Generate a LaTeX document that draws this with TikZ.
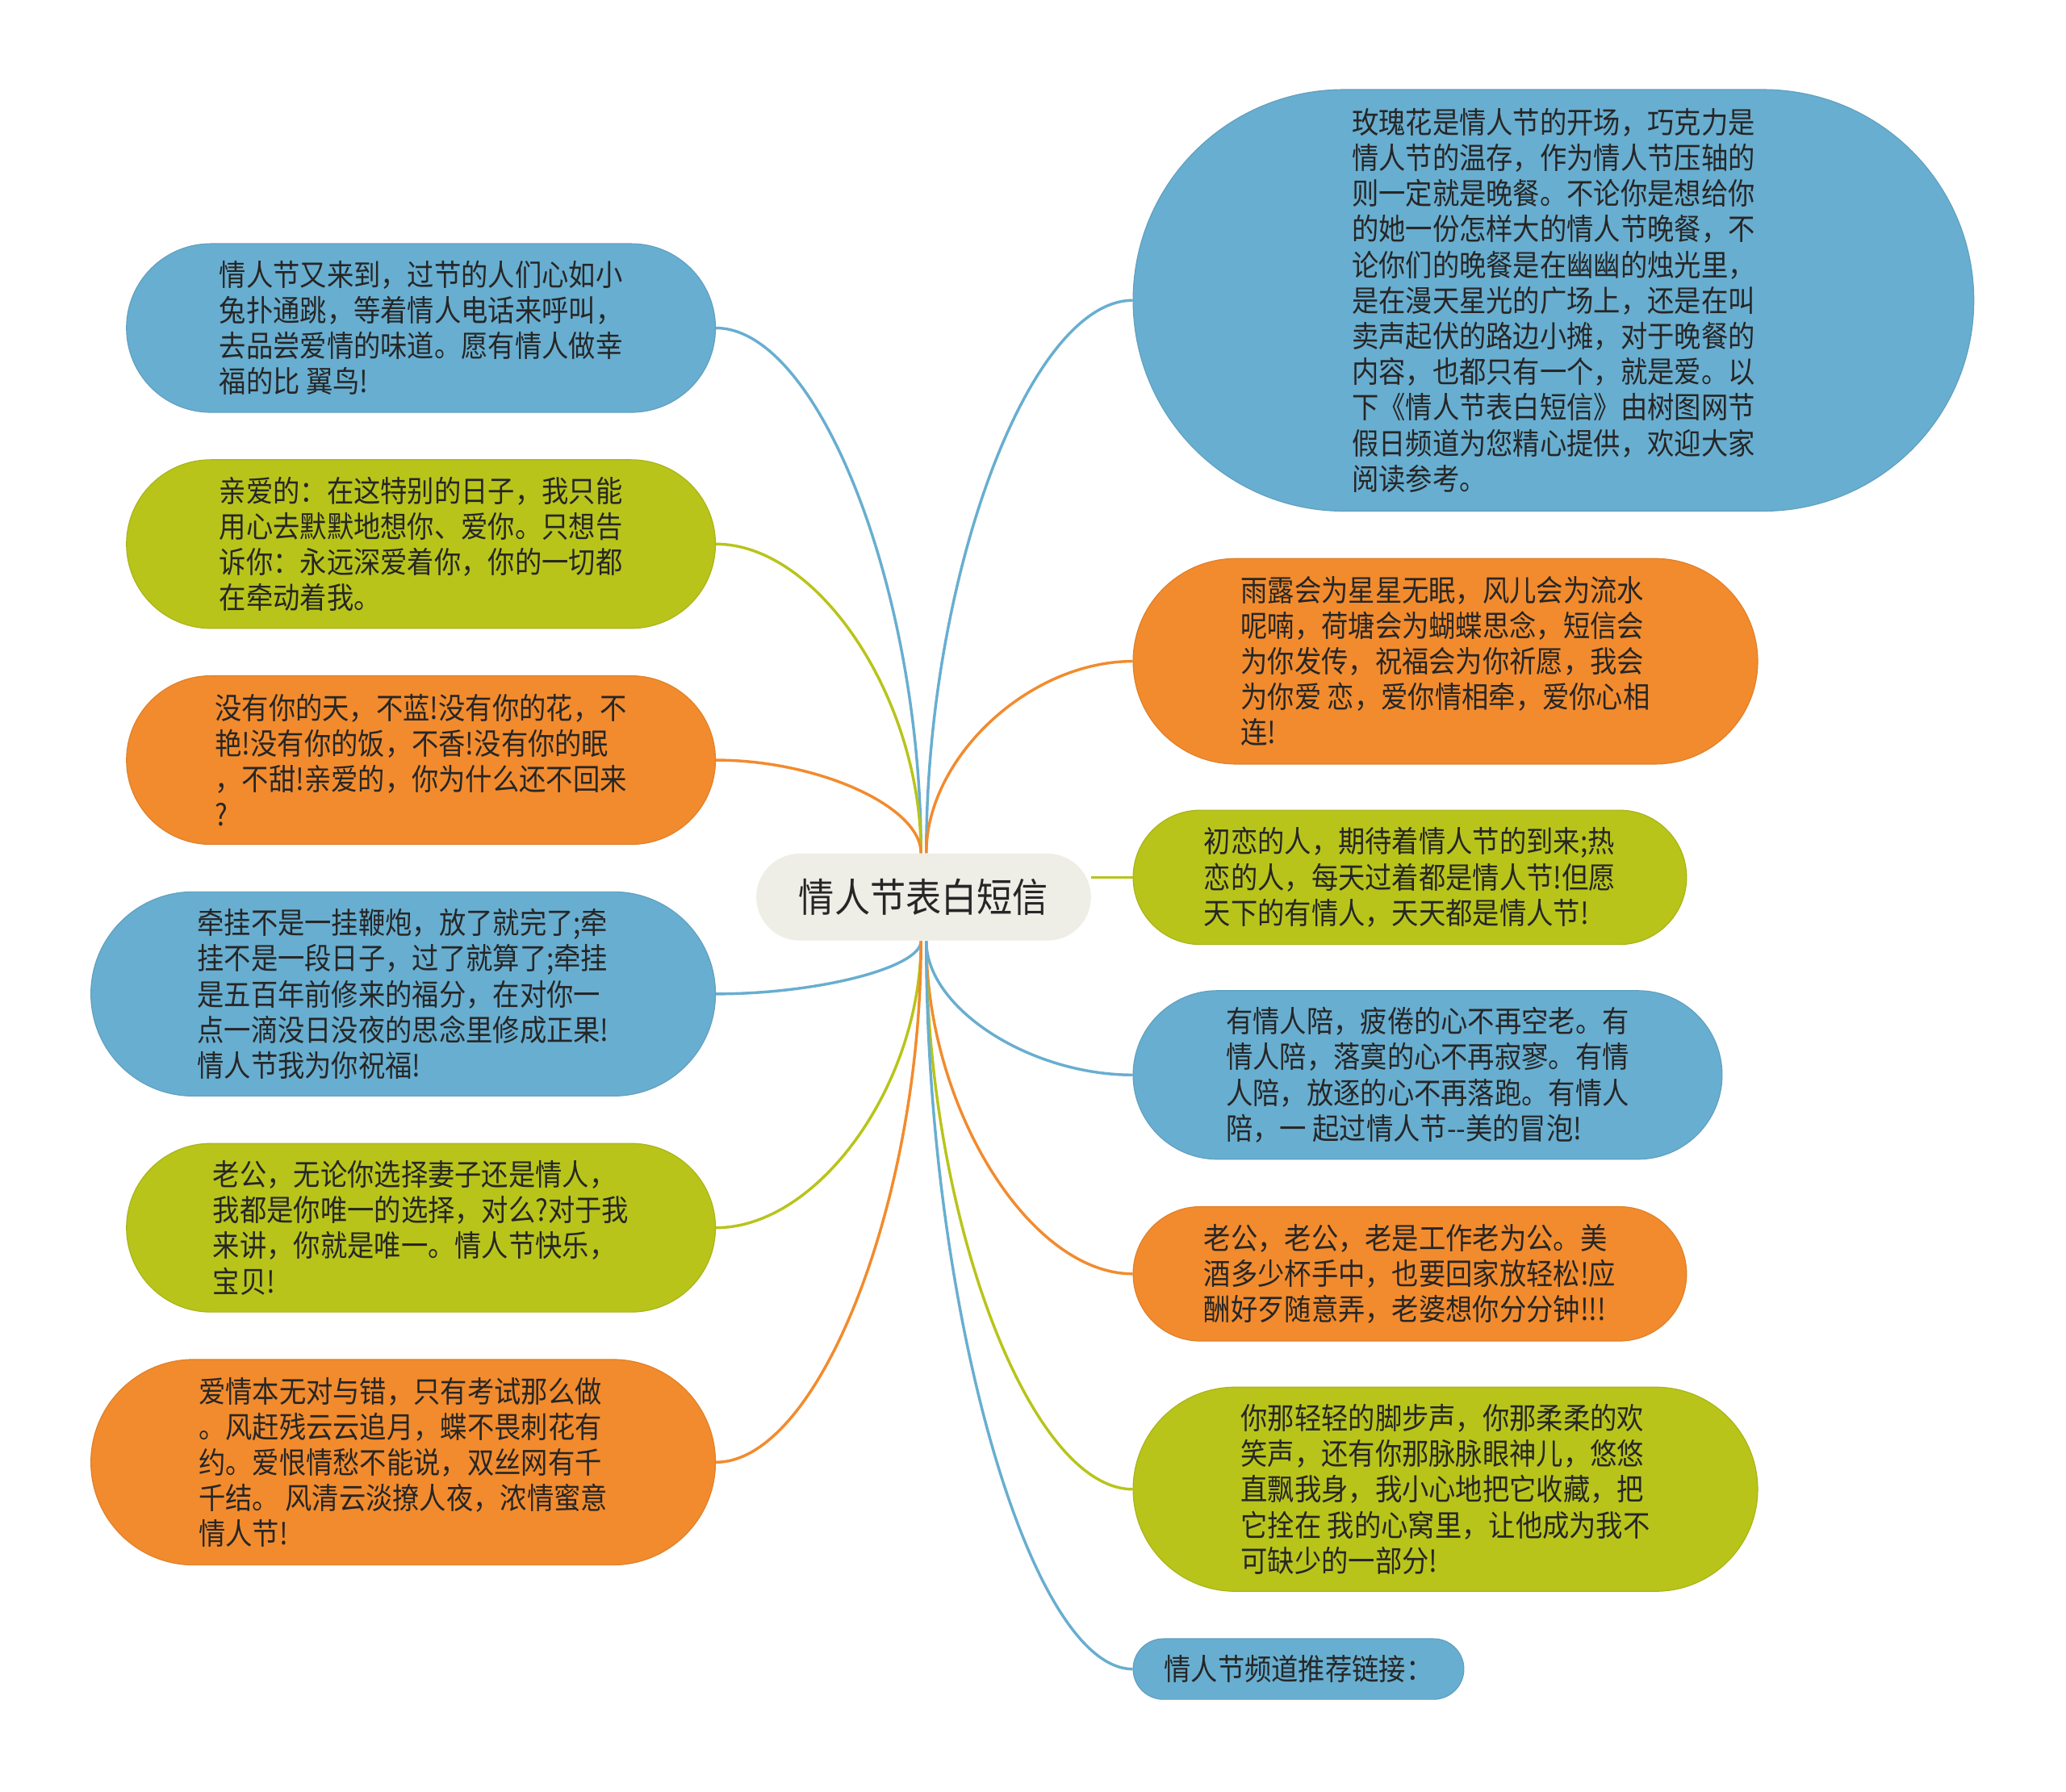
\documentclass[tikz,border=0pt]{standalone}
\usepackage{fontspec}
\setmainfont{Noto Sans CJK SC}[FakeStretch=0.9]
\usepackage{tikz}
\usetikzlibrary{calc}
\definecolor{topicblue}{HTML}{68AED0}
\definecolor{topicgreen}{HTML}{B8C41A}
\definecolor{topicorange}{HTML}{F28B2D}
\definecolor{rootgray}{HTML}{EEEDE6}
\definecolor{inkgray}{HTML}{262626}
\newcommand{\px}{0.02cm}
\newcommand{\branch}[3]{\draw[#1, line width=1.2pt] (#2) .. controls ($(#2)!0.5!(#2 -| #3)$) and ($(#3)!0.5!(#2 -| #3)$) .. (#3);}
\pgfdeclarelayer{bg}
\pgfsetlayers{bg,main}

\begin{document}
\begin{tikzpicture}[x=0.02cm, y=-0.02cm,
    leaf/.style n args={3}{fill=#1, draw=#1!92!black, line width=0.4pt,
        rounded corners=#3*\px/2, minimum width=#2*\px, minimum height=#3*\px,
        inner sep=0pt, align=left, text=inkgray,
        font=\fontsize{12.9pt}{15.4pt}\selectfont},
    root/.style={fill=rootgray, rounded corners=33*\px, minimum width=254*\px,
        minimum height=66*\px, inner sep=0pt, text=inkgray,
        font=\fontsize{17.1pt}{20pt}\selectfont}]
    \useasboundingbox (0,0) rectangle (1568,1360);

    % Centre topic
    \node[root] (ct) at (701,681) {情人节表白短信};
    \coordinate (tl) at ([xshift=-0.04cm]ct.north);
    \coordinate (tr) at ([xshift=0.04cm]ct.north);
    \coordinate (bl) at ([xshift=-0.04cm]ct.south);
    \coordinate (br) at ([xshift=0.04cm]ct.south);

    % Left side
    \node[leaf={topicblue}{447}{128}] (l1) at (319.5,249) {情人节又来到，过节的人们心如小\\兔扑通跳，等着情人电话来呼叫，\\去品尝爱情的味道。愿有情人做幸\\福的比 翼鸟!};
    \node[leaf={topicgreen}{447}{128}] (l2) at (319.5,413) {亲爱的：在这特别的日子，我只能\\用心去默默地想你、爱你。只想告\\诉你：永远深爱着你，你的一切都\\在牵动着我。};
    \node[leaf={topicorange}{447}{128}] (l3) at (319.5,577) {没有你的天，不蓝!没有你的花，不\\艳!没有你的饭，不香!没有你的眠\\，不甜!亲爱的，你为什么还不回来\\?};
    \node[leaf={topicblue}{474}{155}] (l4) at (306,754.5) {牵挂不是一挂鞭炮，放了就完了;牵\\挂不是一段日子，过了就算了;牵挂\\是五百年前修来的福分，在对你一\\点一滴没日没夜的思念里修成正果!\\情人节我为你祝福!};
    \node[leaf={topicgreen}{447}{128}] (l5) at (319.5,932) {老公，无论你选择妻子还是情人，\\我都是你唯一的选择，对么?对于我\\来讲，你就是唯一。情人节快乐，\\宝贝!};
    \node[leaf={topicorange}{474}{156}] (l6) at (306,1110) {爱情本无对与错，只有考试那么做\\。风赶残云云追月，蝶不畏刺花有\\约。爱恨情愁不能说，双丝网有千\\千结。 风清云淡撩人夜，浓情蜜意\\情人节!};

    % Right side
    \node[leaf={topicblue}{638}{320}] (r1) at (1179,228) {玫瑰花是情人节的开场，巧克力是\\情人节的温存，作为情人节压轴的\\则一定就是晚餐。不论你是想给你\\的她一份怎样大的情人节晚餐，不\\论你们的晚餐是在幽幽的烛光里，\\是在漫天星光的广场上，还是在叫\\卖声起伏的路边小摊，对于晚餐的\\内容，也都只有一个，就是爱。以\\下《情人节表白短信》由树图网节\\假日频道为您精心提供，欢迎大家\\阅读参考。};
    \node[leaf={topicorange}{474}{156}] (r2) at (1097,502) {雨露会为星星无眠，风儿会为流水\\呢喃，荷塘会为蝴蝶思念，短信会\\为你发传，祝福会为你祈愿，我会\\为你爱 恋，爱你情相牵，爱你心相\\连!};
    \node[leaf={topicgreen}{420}{102}] (r3) at (1070,666) {初恋的人，期待着情人节的到来;热\\恋的人，每天过着都是情人节!但愿\\天下的有情人，天天都是情人节!};
    \node[leaf={topicblue}{447}{128}] (r4) at (1083.5,816) {有情人陪，疲倦的心不再空老。有\\情人陪，落寞的心不再寂寥。有情\\人陪，放逐的心不再落跑。有情人\\陪，一 起过情人节-{}-美的冒泡!};
    \node[leaf={topicorange}{420}{102}] (r5) at (1070,967) {老公，老公，老是工作老为公。美\\酒多少杯手中，也要回家放轻松!应\\酬好歹随意弄，老婆想你分分钟!!!};
    \node[leaf={topicgreen}{474}{155}] (r6) at (1097,1130.5) {你那轻轻的脚步声，你那柔柔的欢\\笑声，还有你那脉脉眼神儿，悠悠\\直飘我身，我小心地把它收藏，把\\它拴在 我的心窝里，让他成为我不\\可缺少的一部分!};
    \node[leaf={topicblue}{251}{46}] (r7) at (985.5,1267) {情人节频道推荐链接：};

    % Connectors
    \begin{pgfonlayer}{bg}
    \branch{topicblue}{l1.east}{tl}
    \branch{topicgreen}{l2.east}{tl}
    \branch{topicorange}{l3.east}{tl}
    \branch{topicblue}{l4.east}{bl}
    \branch{topicgreen}{l5.east}{bl}
    \branch{topicorange}{l6.east}{bl}
    \branch{topicblue}{r1.west}{tr}
    \branch{topicorange}{r2.west}{tr}
    \draw[topicgreen, line width=1.2pt] (r3.west) -- (r3.west -| ct.east);
    \branch{topicblue}{r4.west}{br}
    \branch{topicorange}{r5.west}{br}
    \branch{topicgreen}{r6.west}{br}
    \branch{topicblue}{r7.west}{br}
    \end{pgfonlayer}
\end{tikzpicture}
\end{document}
